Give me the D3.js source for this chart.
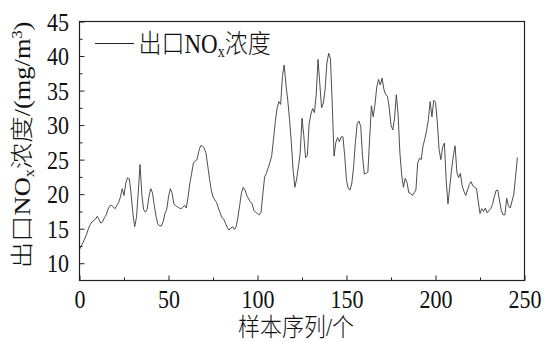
<!DOCTYPE html>
<html>
<head>
<meta charset="utf-8">
<script src="https://cdn.jsdelivr.net/npm/d3@7/dist/d3.min.js"></script>
<style>
  body { margin: 0; background: #fff; }
  svg { display: block; }
  text { font-family: "Liberation Serif", "Noto Sans CJK SC", serif; fill: #111; }
  .cjk { font-weight: 300; }
</style>
</head>
<body>
<script>
// Outlet NOx concentration, one value per sample (mg/m3)
const noxValues = [
  12.0, 12.5, 13.0, 13.6, 14.2, 15.0, 15.6, 16.0, 16.2, 16.4,
  16.8, 16.3, 15.8, 16.0, 16.6, 17.0, 17.8, 18.3, 18.4, 18.1,
  17.9, 18.4, 18.8, 19.6, 20.8, 19.8, 21.6, 22.4, 22.2, 20.0,
  17.2, 15.3, 16.6, 20.2, 24.3, 20.0, 17.8, 17.4, 17.8, 19.6,
  20.8, 20.2, 18.4, 16.8, 15.7, 15.4, 15.4, 16.0, 17.2, 17.8,
  19.6, 20.8, 20.2, 18.6, 18.3, 18.2, 18.0, 17.9, 18.1, 18.4,
  18.0, 19.6, 21.6, 23.0, 24.5, 24.8, 25.0, 26.2, 27.0, 27.0,
  26.7, 26.0, 24.2, 22.3, 20.6, 19.6, 19.2, 18.8, 18.0, 17.3,
  16.6, 16.4, 15.8, 15.2, 14.8, 15.1, 15.3, 14.9, 15.3, 16.6,
  18.4, 20.2, 21.0, 20.6, 19.8, 19.3, 18.9, 18.6, 17.6, 17.4,
  17.2, 17.0, 17.4, 20.0, 22.5, 23.0, 23.8, 24.6, 25.6, 28.0,
  30.5, 32.4, 33.4, 33.0, 37.0, 38.7, 35.8, 33.6, 30.8, 27.5,
  23.5, 21.0, 22.2, 24.0, 26.0, 31.0, 28.5, 25.3, 25.6, 30.2,
  31.6, 32.4, 31.8, 34.5, 39.5, 36.0, 32.5, 33.2, 35.2, 39.0,
  40.4, 39.6, 33.0, 25.5, 27.5, 28.2, 27.6, 28.3, 28.3, 25.5,
  22.0, 20.8, 20.6, 21.6, 24.0, 27.5, 30.2, 30.6, 29.8, 25.5,
  22.9, 23.0, 23.2, 28.0, 32.8, 31.2, 33.0, 35.5, 36.6, 35.8,
  36.8, 35.2, 34.4, 34.2, 32.5, 30.0, 29.3, 31.0, 34.4, 31.5,
  26.0, 22.8, 21.0, 22.3, 21.7, 20.2, 20.1, 19.8, 20.2, 20.6,
  24.5, 25.2, 25.0, 27.0, 28.0, 29.2, 30.8, 33.4, 31.2, 33.6,
  33.3, 30.5, 26.5, 25.0, 26.8, 27.4, 22.0, 18.6, 21.0, 23.5,
  25.5, 27.0, 23.2, 22.4, 23.0, 21.2, 20.4, 19.8, 20.6, 21.4,
  21.8, 21.2, 21.0, 20.8, 19.0, 17.2, 17.9, 17.5, 18.0, 17.3,
  17.6, 17.9, 18.5, 19.6, 20.5, 20.6, 19.0, 17.6, 17.0, 17.0,
  19.4, 18.3, 18.0, 19.0, 20.0, 22.6, 25.3
];

const xTicks = [0, 50, 100, 150, 200, 250];
const xMinorTicks = [25, 75, 125, 175, 225];
const yTicks = [10, 15, 20, 25, 30, 35, 40, 45];
const yMinorTicks = [12.5, 17.5, 22.5, 27.5, 32.5, 37.5, 42.5];
const xDomain = [0, 250];
const yDomain = [7.5, 45];

const W = 544, H = 342;
const plot = { left: 79.5, right: 524.5, top: 21.5, bottom: 280.5 };
const stretch = 1.15; // glyphs in this figure are drawn slightly taller than wide

const svg = d3.select("body").append("svg")
  .attr("width", W).attr("height", H);

const x = d3.scaleLinear().domain(xDomain).range([plot.left, plot.right]);
const y = d3.scaleLinear().domain(yDomain).range([plot.bottom, plot.top]);

// inward tick marks
function tickAxis(axisFn, scale, values, size, fmt) {
  return axisFn(scale).tickValues(values).tickSize(-size).tickPadding(0)
    .tickFormat(fmt || (() => ""));
}

svg.append("g").attr("transform", `translate(0,${plot.bottom})`)
  .call(tickAxis(d3.axisBottom, x, xMinorTicks, 3));
const gxMajor = svg.append("g").attr("transform", `translate(0,${plot.bottom})`)
  .call(tickAxis(d3.axisBottom, x, xTicks, 5, d3.format("d")));

svg.append("g").attr("transform", `translate(${plot.left},0)`)
  .call(tickAxis(d3.axisLeft, y, yMinorTicks, 3));
const gyMajor = svg.append("g").attr("transform", `translate(${plot.left},0)`)
  .call(tickAxis(d3.axisLeft, y, yTicks, 5, d3.format("d")));

svg.selectAll(".domain").remove();
svg.selectAll(".tick line").attr("stroke", "#222").attr("stroke-width", 1);

gxMajor.selectAll(".tick text")
  .attr("y", null).attr("dy", null)
  .attr("text-anchor", "middle")
  .attr("font-size", 22)
  .attr("transform", `translate(0,27.5) scale(1,${stretch})`);

gyMajor.selectAll(".tick text")
  .attr("x", null).attr("dy", null)
  .attr("text-anchor", "end")
  .attr("font-size", 22)
  .attr("transform", `translate(-10.5,8.5) scale(1,${stretch})`);

// frame
svg.append("rect")
  .attr("x", plot.left).attr("y", plot.top)
  .attr("width", plot.right - plot.left).attr("height", plot.bottom - plot.top)
  .attr("fill", "none").attr("stroke", "#222").attr("stroke-width", 1.2);

// series line
const line = d3.line()
  .x((d, i) => x(i))
  .y(d => y(d));

svg.append("path")
  .datum(noxValues)
  .attr("d", line)
  .attr("fill", "none")
  .attr("stroke", "#3a3a3a")
  .attr("stroke-width", 0.9)
  .attr("stroke-linejoin", "round");

// legend
svg.append("line")
  .attr("x1", 95).attr("x2", 134)
  .attr("y1", 43.5).attr("y2", 43.5)
  .attr("stroke", "#222").attr("stroke-width", 1.2);

const legendText = svg.append("text")
  .attr("font-size", 23)
  .attr("transform", `translate(138.5,52.5) scale(1,${stretch})`);
legendText.append("tspan").attr("class", "cjk").text("出口");
legendText.append("tspan").text("NO");
legendText.append("tspan").attr("font-size", 14).attr("dy", 4).text("x");
legendText.append("tspan").attr("class", "cjk").attr("dy", -4).text("浓度");

// x title
svg.append("text")
  .attr("class", "cjk")
  .attr("font-size", 22)
  .attr("text-anchor", "middle")
  .attr("transform", `translate(296,336) scale(1,${stretch})`)
  .text("样本序列/个");

// y title
const yTitle = svg.append("text")
  .attr("font-size", 23)
  .attr("text-anchor", "middle")
  .attr("transform", `translate(30,145) scale(1,${stretch}) rotate(-90)`);
yTitle.append("tspan").attr("class", "cjk").text("出口");
yTitle.append("tspan").text("NO");
yTitle.append("tspan").attr("font-size", 14).attr("dy", 4).text("x");
yTitle.append("tspan").attr("class", "cjk").attr("dy", -4).text("浓度");
yTitle.append("tspan").text("/(mg/m");
yTitle.append("tspan").attr("font-size", 14).attr("dy", -8).text("3");
yTitle.append("tspan").attr("dy", 8).text(")");
</script>
</body>
</html>
